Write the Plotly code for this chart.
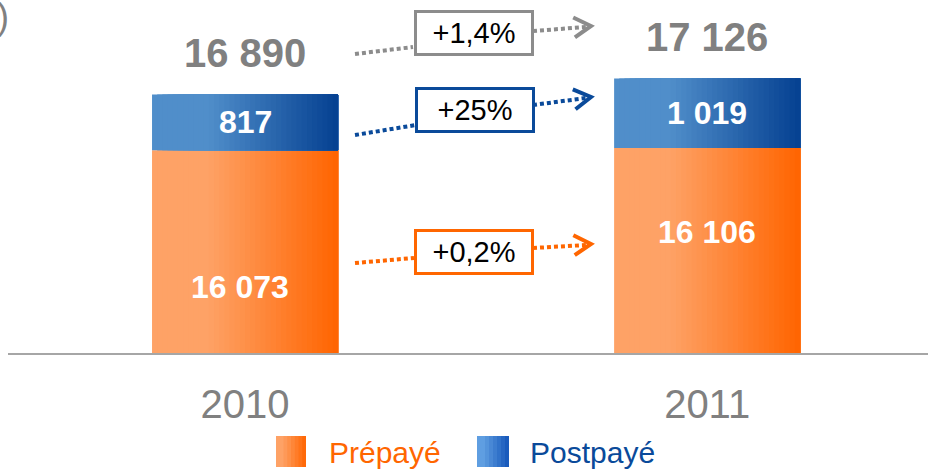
import plotly.graph_objects as go
import numpy as np

# ---------------- data ----------------
years = ["2010", "2011"]
prepaye = [16073, 16106]
postpaye = [817, 1019]
totals = [16890, 17126]
total_labels = ["16 890", "17 126"]
prepaye_labels = ["16 073", "16 106"]
postpaye_labels = ["817", "1 019"]
growth_labels = ["+1,4%", "+25%", "+0,2%"]
legend_names = ["Prépayé", "Postpayé"]

# ---------------- geometry helpers ----------------
W, H = 928, 469
ML, MR, MT, MB = 8, 0, 0, 116
PW, PH = W - ML - MR, H - MT - MB


def px(x):
    return (x - ML) / PW


def py(y):
    return (H - MB - y) / PH


FONT = "Arial, Liberation Sans, sans-serif"
GRAY = "#808080"
ORANGE = "#FF6600"
BLUE = "#0A4A9A"


def mix(c0, c1, t, knee=0.3):
    s = 0.0 if t < knee else (t - knee) / (1 - knee)
    c = [round(a + (b - a) * s) for a, b in zip(c0, c1)]
    return "rgb(%d,%d,%d)" % tuple(c)


OR_L, OR_D = (254, 162, 102), (255, 100, 0)
BL_L, BL_D = (80, 142, 202), (5, 64, 145)

fig = go.Figure()

BW = 0.4026
N = 36
for vals, base, cl, cd in [(prepaye, None, OR_L, OR_D), (postpaye, prepaye, BL_L, BL_D)]:
    for i in range(N):
        t = (i + 0.5) / N
        off = -BW / 2 + i * BW / N
        fig.add_trace(go.Bar(
            x=years, y=vals, base=base, offset=off, width=BW / 2 - off,
            marker=dict(color=mix(cl, cd, t), line=dict(width=0)),
            opacity=1, showlegend=False, hoverinfo="skip",
        ))

annotations = []
# totals above bars
for k, (tot, lab) in enumerate(zip(totals, total_labels)):
    annotations.append(dict(x=k, y=tot, xref="x", yref="y", text=lab, showarrow=False,
                            xanchor="center", yanchor="bottom", yshift=18,
                            font=dict(family=FONT, size=40, color=GRAY, weight="bold")))
# postpaid labels (centered in segment)
for k, (pre, post, lab) in enumerate(zip(prepaye, postpaye, postpaye_labels)):
    annotations.append(dict(x=k, y=pre + post / 2, xref="x", yref="y", text=lab, showarrow=False,
                            xanchor="center", yanchor="middle",
                            font=dict(family=FONT, size=32, color="white", weight="bold")))
# prepaid labels
for xp, yp, lab in zip([240, 707], [287, 232], prepaye_labels):
    annotations.append(dict(x=px(xp), y=py(yp), xref="paper", yref="paper", text=lab, showarrow=False,
                            xanchor="center", yanchor="middle",
                            font=dict(family=FONT, size=32, color="white", weight="bold")))

# growth boxes + dotted arrows
arrows = [
    (growth_labels[0], "#8C8C8C", (473.5, 33.5), [(355, 54), (413, 47)], [(533, 31), (586, 27)], (591, 26)),
    (growth_labels[1], BLUE, (474.5, 110), [(355, 135), (416, 125)], [(533, 105), (586, 98)], (591, 97)),
    (growth_labels[2], ORANGE, (473.5, 251.5), [(355, 263), (414, 258)], [(533, 248), (586, 245)], (591, 244)),
]
shapes = []
for lab, col, (cx, cy), seg1, seg2, tip in arrows:
    for (x0, y0), (x1, y1) in [seg1, seg2]:
        shapes.append(dict(type="line", xref="paper", yref="paper",
                           x0=px(x0), y0=py(y0), x1=px(x1), y1=py(y1),
                           line=dict(color=col, width=4, dash="4px,3px")))
    d = np.array(tip, float) - np.array(seg2[0], float)
    d /= np.linalg.norm(d)
    n = np.array([-d[1], d[0]])
    t = np.array(tip, float)
    a1 = t - 17 * d + 10 * n
    a2 = t - 17 * d - 10 * n
    path = "M %f %f L %f %f L %f %f" % (px(a1[0]), py(a1[1]), px(t[0]), py(t[1]), px(a2[0]), py(a2[1]))
    shapes.append(dict(type="path", xref="paper", yref="paper", path=path,
                       line=dict(color=col, width=4)))
    annotations.append(dict(x=px(cx), y=py(cy), xref="paper", yref="paper", text=lab, showarrow=False,
                            xanchor="center", yanchor="middle",
                            font=dict(family=FONT, size=29, color="black"),
                            bgcolor="white", bordercolor=col, borderwidth=3, borderpad=3,
                            width=108, height=34))

# cropped title fragment
annotations.append(dict(x=px(11), y=py(16), xref="paper", yref="paper", text=")", showarrow=False,
                        xanchor="right", yanchor="middle", font=dict(family=FONT, size=36, color=GRAY)))

# custom legend
leg = [(legend_names[0], 276, 306, OR_L, OR_D, ORANGE, 327),
       (legend_names[1], 477, 509, (95, 158, 225), (20, 85, 185), BLUE, 528)]
for name, x0, x1, cl, cd, tcol, tx in leg:
    M = 8
    for i in range(M):
        xs = x0 + (x1 - x0) * i / M
        shapes.append(dict(type="rect", xref="paper", yref="paper",
                           x0=px(xs), x1=px(x1), y0=py(467), y1=py(436),
                           fillcolor=mix(cl, cd, (i + 0.5) / M, knee=0.2), line=dict(width=0)))
    annotations.append(dict(x=px(tx), y=py(452), xref="paper", yref="paper", text=name, showarrow=False,
                            xanchor="left", yanchor="middle", font=dict(family=FONT, size=30, color=tcol)))

fig.update_layout(
    width=W, height=H,
    margin=dict(l=ML, r=MR, t=MT, b=MB),
    barmode="overlay",
    plot_bgcolor="white", paper_bgcolor="white",
    showlegend=False,
    xaxis=dict(type="category", range=[-0.513, 1.478], showline=True, linecolor="#A6A6A6",
               linewidth=2, ticks="outside", ticklen=15, tickcolor="rgba(0,0,0,0)",
               tickfont=dict(family=FONT, size=40, color=GRAY), showgrid=False, zeroline=False,
               automargin=False, fixedrange=True),
    yaxis=dict(range=[13090, 18281], visible=False, showgrid=False, zeroline=False, fixedrange=True),
    annotations=annotations,
    shapes=shapes,
)

fig.write_html("out.html", config={"displayModeBar": False, "staticPlot": True},
               post_script="document.body.style.margin='0';document.body.style.padding='0';")
